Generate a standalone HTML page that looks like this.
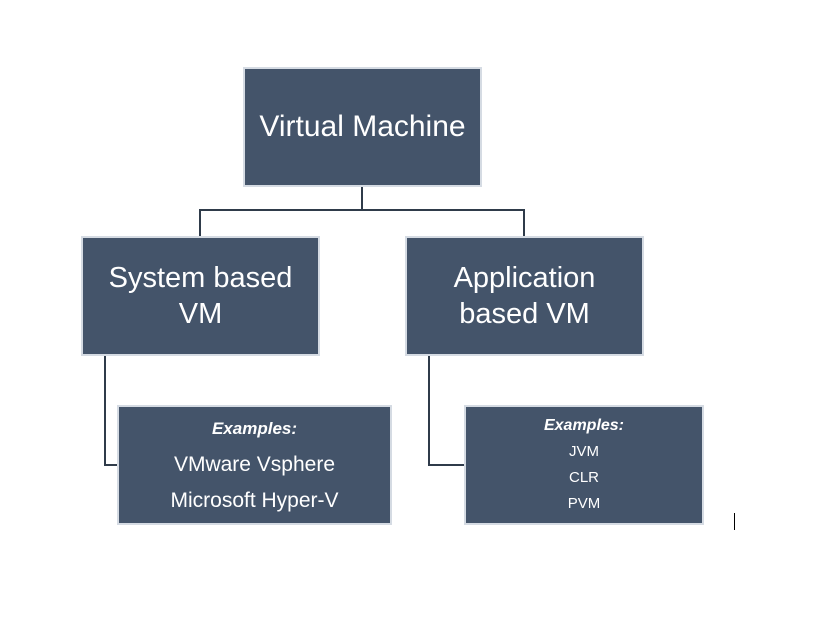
<!DOCTYPE html>
<html><head><style>
body{margin:0;width:820px;height:622px;background:#fff;position:relative;overflow:hidden;font-family:"Liberation Sans",sans-serif}
.b{position:absolute;background:#44546a;border:2px solid #d5dbe3;box-sizing:border-box;color:#fff;text-align:center;display:flex;flex-direction:column;justify-content:center;align-items:center}
.l{position:absolute;background:#2f3b4a}
</style></head><body>
<div class="l" style="left:361px;top:186px;width:2px;height:25px"></div>
<div class="l" style="left:199px;top:209px;width:326px;height:2px"></div>
<div class="l" style="left:199px;top:209px;width:2px;height:28px"></div>
<div class="l" style="left:523px;top:209px;width:2px;height:28px"></div>
<div class="l" style="left:104px;top:355px;width:2px;height:111px"></div>
<div class="l" style="left:104px;top:464px;width:14px;height:2px"></div>
<div class="l" style="left:428px;top:355px;width:2px;height:111px"></div>
<div class="l" style="left:428px;top:464px;width:37px;height:2px"></div>
<div class="b" style="left:243px;top:67px;width:239px;height:120px;font-size:30px">Virtual Machine</div>
<div class="b" style="left:81px;top:236px;width:239px;height:120px;font-size:29px;line-height:36px">System based<br>VM</div>
<div class="b" style="left:405px;top:236px;width:239px;height:120px;font-size:29px;line-height:36px">Application<br>based VM</div>
<div class="b" style="left:117px;top:405px;width:275px;height:120px;font-size:21px;line-height:36px"><i style="font-weight:bold;font-size:17px">Examples:</i>VMware Vsphere<br>Microsoft Hyper-V</div>
<div class="b" style="left:464px;top:405px;width:240px;height:120px;font-size:15px;line-height:26px"><i style="font-weight:bold;font-size:16px">Examples:</i>JVM<br>CLR<br>PVM</div>
<div class="l" style="left:734px;top:513px;width:1px;height:17px;background:#000"></div>
</body></html>
